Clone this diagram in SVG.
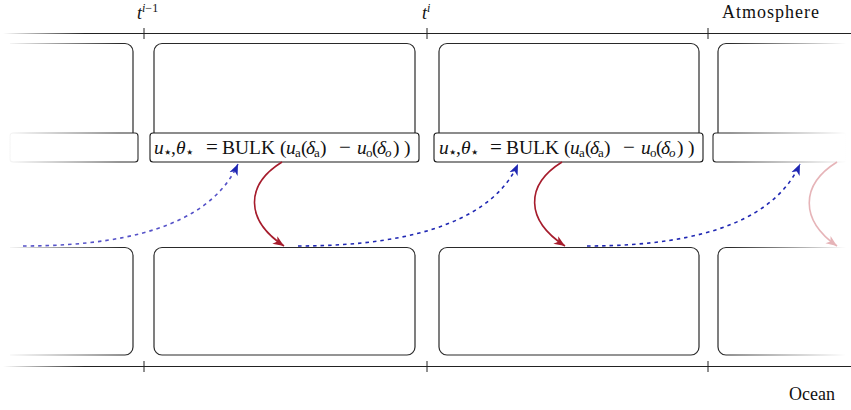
<svg xmlns="http://www.w3.org/2000/svg" width="851" height="410" viewBox="0 0 851 410">
<style>
.box{fill:none;stroke:#2a2a2a;stroke-width:1.2}
.bulk{fill:#fff;stroke:#1a1a1a;stroke-width:1.1}
.axis{fill:none;stroke:#222;stroke-width:1}
.tick{stroke:#222;stroke-width:1}
text{font-family:"Liberation Serif","DejaVu Serif",serif;fill:#111}
.lbl{font-size:18px}
.eq{font-size:19.5px}
.sub{font-size:13px}
.star{font-size:15px}
.op{font-size:21px}
.it{font-style:italic}
.blue{fill:none;stroke:#1f27b3;stroke-width:1.6;stroke-dasharray:3.5 4}
.red{fill:none;stroke:#a61c2c;stroke-width:1.6}
</style>
<defs>
<linearGradient id="fadeL" gradientUnits="userSpaceOnUse" x1="5" y1="0" x2="120" y2="0">
<stop offset="0" stop-color="#2a2a2a" stop-opacity="0"/><stop offset="1" stop-color="#2a2a2a" stop-opacity="1"/></linearGradient>
<linearGradient id="fadeR" gradientUnits="userSpaceOnUse" x1="730" y1="0" x2="846" y2="0">
<stop offset="0" stop-color="#2a2a2a" stop-opacity="1"/><stop offset="1" stop-color="#2a2a2a" stop-opacity="0"/></linearGradient>
<linearGradient id="axisL" gradientUnits="userSpaceOnUse" x1="3" y1="0" x2="85" y2="0">
<stop offset="0" stop-color="#222" stop-opacity="0"/><stop offset="1" stop-color="#222" stop-opacity="1"/></linearGradient>
<marker id="ab" markerUnits="userSpaceOnUse" markerWidth="12" markerHeight="10" viewBox="0 0 12 10" refX="11" refY="5" orient="auto">
<path d="M0,0.5 L11,5 L0,9.5 L3,5 z" fill="#1f27b3"/></marker>
<marker id="ar" markerUnits="userSpaceOnUse" markerWidth="12" markerHeight="10" viewBox="0 0 12 10" refX="11" refY="5" orient="auto">
<path d="M0,0.5 L11,5 L0,9.5 L3,5 z" fill="#a61c2c"/></marker>
<marker id="ap" markerUnits="userSpaceOnUse" markerWidth="12" markerHeight="10" viewBox="0 0 12 10" refX="11" refY="5" orient="auto">
<path d="M0,0.5 L11,5 L0,9.5 L3,5 z" fill="#e6b4b8"/></marker>
</defs>
<rect width="851" height="410" fill="#fff"/>

<g id="axes">
<line class="axis" x1="3" y1="33.5" x2="85" y2="33.5" style="stroke:url(#axisL)"/>
<line class="axis" x1="84" y1="33.5" x2="851" y2="33.5"/>
<line class="tick" x1="144" y1="28" x2="144" y2="39"/>
<line class="tick" x1="427" y1="28" x2="427" y2="39"/>
<line class="tick" x1="708" y1="28" x2="708" y2="39"/>
<line class="axis" x1="3" y1="366.5" x2="85" y2="366.5" style="stroke:url(#axisL)"/>
<line class="axis" x1="84" y1="366.5" x2="851" y2="366.5"/>
<line class="tick" x1="144" y1="361" x2="144" y2="372"/>
<line class="tick" x1="427" y1="361" x2="427" y2="372"/>
<line class="tick" x1="708" y1="361" x2="708" y2="372"/>
<text class="lbl" x="137" y="19"><tspan class="it">t</tspan><tspan class="it" font-size="12" dy="-7">i</tspan><tspan font-size="12">−1</tspan></text>
<text class="lbl" x="422" y="19"><tspan class="it">t</tspan><tspan class="it" font-size="12" dy="-7">i</tspan></text>
<text class="lbl" x="722" y="18" font-size="18.5" textLength="97" lengthAdjust="spacing">Atmosphere</text>
<text class="lbl" x="789" y="400" font-size="19">Ocean</text>
</g>

<g id="atm1"><path class="box" style="stroke:url(#fadeL)" d="M10,43.5 H125 A8,8 0 0 1 133,51.5 V135"/></g>
<g id="atm2"><rect class="box" x="154" y="43.5" width="261" height="100" rx="8"/></g>
<g id="atm3"><rect class="box" x="439" y="43.5" width="260" height="100" rx="8"/></g>
<g id="atm4"><path class="box" style="stroke:url(#fadeR)" d="M846,43.5 H726 A8,8 0 0 0 718,51.5 V135"/></g>

<g id="bulk1"><rect class="bulk" style="stroke:url(#fadeL)" x="10" y="133" width="128" height="29" rx="3"/></g>
<g id="bulk2"><rect class="bulk" x="150" y="133" width="269" height="29" rx="3"/>
<text class="eq" y="153.5"><tspan x="154" class="it">u</tspan><tspan x="163" class="star" dy="3">⋆</tspan><tspan x="171" dy="-3">,</tspan><tspan x="176" class="it">θ</tspan><tspan x="185" class="star" dy="3">⋆</tspan><tspan class="op" dy="-3" x="206">=</tspan><tspan x="222">BULK</tspan><tspan x="280">(</tspan><tspan x="286" class="it">u</tspan><tspan x="295" class="sub" dy="3">a</tspan><tspan x="301" dy="-3">(</tspan><tspan x="306" class="it">δ</tspan><tspan x="314" class="sub" dy="3">a</tspan><tspan x="320" dy="-3">)</tspan><tspan class="op" x="339">−</tspan><tspan x="357" class="it">u</tspan><tspan x="366" class="sub" dy="3">o</tspan><tspan x="372" dy="-3">(</tspan><tspan x="377" class="it">δ</tspan><tspan x="385" class="sub it" dy="3">o</tspan><tspan x="393" dy="-3">)</tspan><tspan x="404">)</tspan></text></g>
<g id="bulk3" transform="translate(284,0)"><rect class="bulk" x="150" y="133" width="269" height="29" rx="3"/>
<text class="eq" y="153.5"><tspan x="155" class="it">u</tspan><tspan x="164" class="star" dy="3">⋆</tspan><tspan x="172" dy="-3">,</tspan><tspan x="177" class="it">θ</tspan><tspan x="186" class="star" dy="3">⋆</tspan><tspan class="op" dy="-3" x="206">=</tspan><tspan x="222">BULK</tspan><tspan x="280">(</tspan><tspan x="286" class="it">u</tspan><tspan x="295" class="sub" dy="3">a</tspan><tspan x="301" dy="-3">(</tspan><tspan x="306" class="it">δ</tspan><tspan x="314" class="sub" dy="3">a</tspan><tspan x="320" dy="-3">)</tspan><tspan class="op" x="339">−</tspan><tspan x="357" class="it">u</tspan><tspan x="366" class="sub" dy="3">o</tspan><tspan x="372" dy="-3">(</tspan><tspan x="377" class="it">δ</tspan><tspan x="385" class="sub it" dy="3">o</tspan><tspan x="393" dy="-3">)</tspan><tspan x="404">)</tspan></text></g>
<g id="bulk4"><rect class="bulk" style="stroke:url(#fadeR)" x="713" y="133" width="133" height="29" rx="3"/></g>

<g id="ocean1"><path class="box" style="stroke:url(#fadeL)" d="M10,247.5 H125 A8,8 0 0 1 133,255.5 V347 A8,8 0 0 1 125,355 H10"/></g>
<g id="ocean2"><rect class="box" x="154" y="247.5" width="261" height="107.5" rx="8"/></g>
<g id="ocean3"><rect class="box" x="439" y="247.5" width="260" height="107.5" rx="8"/></g>
<g id="ocean4"><path class="box" style="stroke:url(#fadeR)" d="M846,247.5 H726 A8,8 0 0 0 718,255.5 V347 A8,8 0 0 0 726,355 H846"/></g>

<g id="connectors">
<path class="blue" style="stroke:#5552c8" marker-end="url(#ab)" d="M23,246 C150,246 215,215 238,164"/>
<path class="blue" marker-end="url(#ab)" d="M298,246 C425,246 495,215 518,164"/>
<path class="blue" marker-end="url(#ab)" d="M587,246 C712,246 777,215 800,164"/>
<path class="red" marker-end="url(#ar)" d="M282,162 C245,185 245,220 284,246"/>
<path class="red" marker-end="url(#ar)" d="M562,162 C525,185 525,220 565,246"/>
<path class="red" style="stroke:#e6b4b8" marker-end="url(#ap)" d="M837,162 C800,185 800,220 837,246"/>
</g>
</svg>
